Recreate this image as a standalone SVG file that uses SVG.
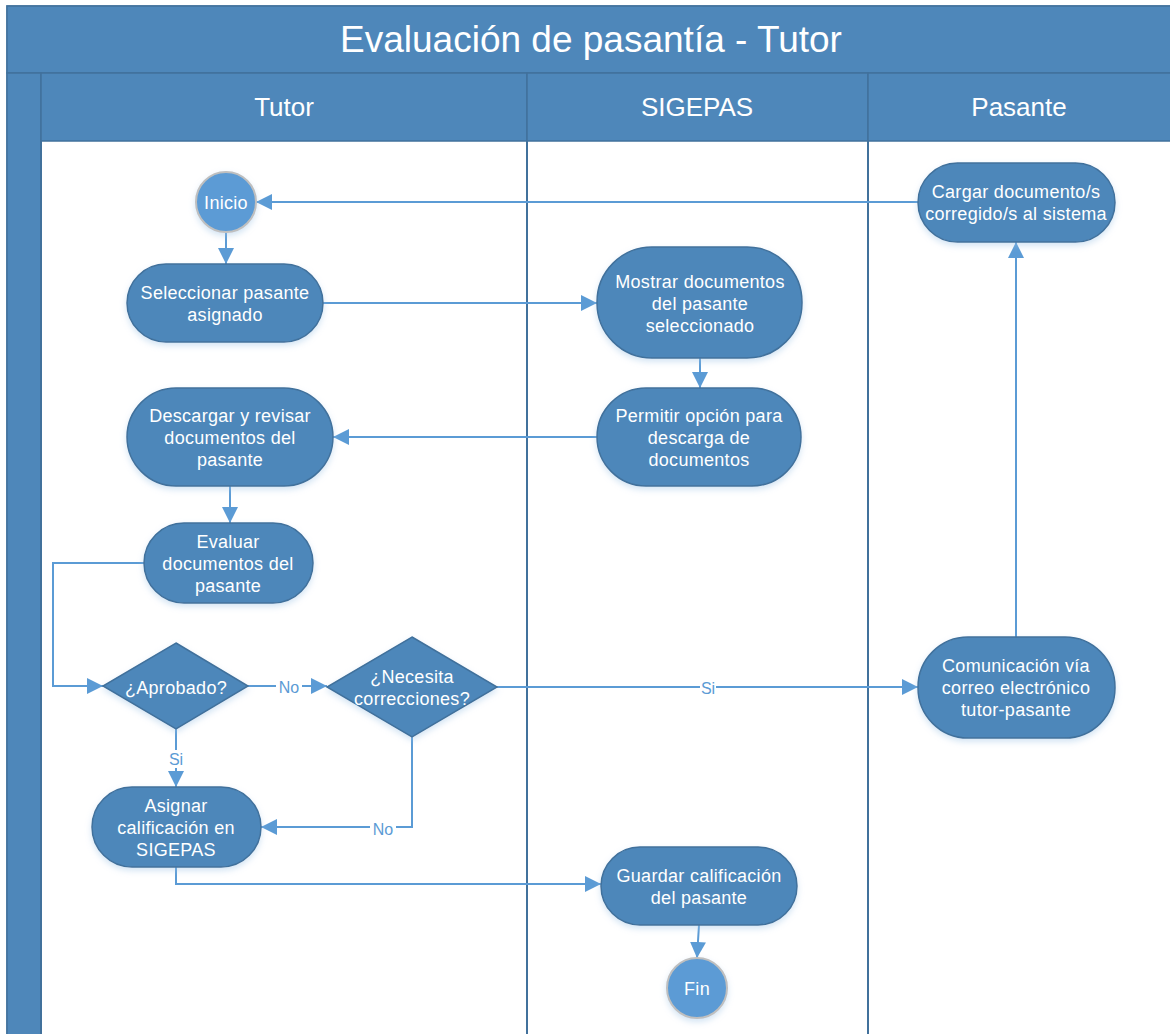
<svg xmlns="http://www.w3.org/2000/svg" width="1170" height="1034" viewBox="0 0 1170 1034">
<style>
.hdr{fill:#4E87BA;stroke:#41719C;stroke-width:1.5}
.proc{fill:#4D87BA;stroke:#41719C;stroke-width:1.5;filter:url(#sh)}
.term{fill:#5B9BD5;stroke:#BFBFBF;stroke-width:2;filter:url(#sh)}
.t{font-family:"Liberation Sans",Arial,sans-serif;font-size:18px;fill:#FFFFFF;text-anchor:middle;letter-spacing:0.3px}
.title{font-family:"Liberation Sans",Arial,sans-serif;font-size:37px;fill:#FFFFFF;text-anchor:middle}
.lane{font-family:"Liberation Sans",Arial,sans-serif;font-size:26px;fill:#FFFFFF;text-anchor:middle}
.c{fill:none;stroke:#5B9BD5;stroke-width:2}
.lbl{font-family:"Liberation Sans",Arial,sans-serif;font-size:16px;fill:#5B9BD5;text-anchor:middle}
.div{stroke:#41719C;stroke-width:2}
</style>
<defs>
<marker id="arr" viewBox="0 0 16 16" refX="16" refY="8" markerWidth="16" markerHeight="16" markerUnits="userSpaceOnUse" orient="auto">
<path d="M0,0 L16,8 L0,16 z" fill="#5B9BD5"/>
</marker>
<filter id="sh" x="-20%" y="-20%" width="140%" height="150%">
<feGaussianBlur in="SourceAlpha" stdDeviation="3"/>
<feOffset dx="0" dy="3" result="b"/>
<feFlood flood-color="#9DC3E6" flood-opacity="0.45"/>
<feComposite in2="b" operator="in"/>
<feMerge><feMergeNode/><feMergeNode in="SourceGraphic"/></feMerge>
</filter>
</defs>
<rect x="0" y="0" width="1170" height="1034" fill="#FFFFFF"/>
<g id="pool">
<rect x="7" y="6" width="1175" height="1040" fill="#FFFFFF" stroke="#41719C" stroke-width="1.5"/>
<rect class="hdr" x="7" y="6" width="1175" height="67"/>
<rect class="hdr" x="7" y="73" width="34" height="970"/>
<rect class="hdr" x="41" y="73" width="486" height="68"/>
<rect class="hdr" x="527" y="73" width="341" height="68"/>
<rect class="hdr" x="868" y="73" width="310" height="68"/>
<text class="title" x="591" y="52">Evaluación de pasantía - Tutor</text>
<text class="lane" x="284" y="116">Tutor</text>
<text class="lane" x="697" y="116">SIGEPAS</text>
<text class="lane" x="1019" y="116">Pasante</text>
<line class="div" x1="527" y1="141" x2="527" y2="1034"/>
<line class="div" x1="868" y1="141" x2="868" y2="1034"/>
<line class="div" x1="41" y1="141" x2="41" y2="1034"/>
</g>
<g id="connectors">
<line class="c" x1="918" y1="202" x2="256" y2="202" marker-end="url(#arr)"/>
<line class="c" x1="226" y1="233" x2="226" y2="264" marker-end="url(#arr)"/>
<line class="c" x1="323" y1="303" x2="597" y2="303" marker-end="url(#arr)"/>
<line class="c" x1="700" y1="358" x2="700" y2="388" marker-end="url(#arr)"/>
<line class="c" x1="597" y1="437" x2="333" y2="437" marker-end="url(#arr)"/>
<line class="c" x1="230" y1="486" x2="230" y2="523" marker-end="url(#arr)"/>
<polyline class="c" points="144,563 53,563 53,686 103,686" marker-end="url(#arr)"/>
<line class="c" x1="248" y1="686" x2="327" y2="686" marker-end="url(#arr)"/>
<line class="c" x1="497" y1="687" x2="918" y2="687" marker-end="url(#arr)"/>
<line class="c" x1="1016" y1="637" x2="1016" y2="242" marker-end="url(#arr)"/>
<line class="c" x1="176" y1="729" x2="176" y2="787" marker-end="url(#arr)"/>
<polyline class="c" points="412,737 412,827 261,827" marker-end="url(#arr)"/>
<polyline class="c" points="176,867 176,884 601,884" marker-end="url(#arr)"/>
<line class="c" x1="699" y1="925" x2="697" y2="958" marker-end="url(#arr)"/>
<rect x="276" y="678" width="26" height="18" fill="#FFFFFF"/>
<text class="lbl" x="289" y="693">No</text>
<rect x="700" y="679" width="16" height="18" fill="#FFFFFF"/>
<text class="lbl" x="708" y="694">Si</text>
<rect x="168" y="750" width="16" height="18" fill="#FFFFFF"/>
<text class="lbl" x="176" y="765">Si</text>
<rect x="370" y="820" width="26" height="18" fill="#FFFFFF"/>
<text class="lbl" x="383" y="835">No</text>
</g>
<g id="inicio">
<circle class="term" cx="226" cy="202" r="30"/>
<text class="t" x="226" y="208.5">Inicio</text>
</g>
<g id="seleccionar">
<rect class="proc" x="127" y="264" width="196" height="78" rx="39"/>
<text class="t" x="225" y="298.5">Seleccionar pasante</text>
<text class="t" x="225" y="320.5">asignado</text>
</g>
<g id="mostrar">
<rect class="proc" x="597" y="247" width="205" height="111" rx="55"/>
<text class="t" x="700" y="287.5">Mostrar documentos</text>
<text class="t" x="700" y="309.5">del pasante</text>
<text class="t" x="700" y="331.5">seleccionado</text>
</g>
<g id="permitir">
<rect class="proc" x="597" y="388" width="204" height="98" rx="49"/>
<text class="t" x="699" y="421.5">Permitir opción para</text>
<text class="t" x="699" y="443.5">descarga de</text>
<text class="t" x="699" y="465.5">documentos</text>
</g>
<g id="descargar">
<rect class="proc" x="127" y="388" width="206" height="98" rx="49"/>
<text class="t" x="230" y="421.5">Descargar y revisar</text>
<text class="t" x="230" y="443.5">documentos del</text>
<text class="t" x="230" y="465.5">pasante</text>
</g>
<g id="evaluar">
<rect class="proc" x="144" y="523" width="169" height="80" rx="40"/>
<text class="t" x="228" y="547.5">Evaluar</text>
<text class="t" x="228" y="569.5">documentos del</text>
<text class="t" x="228" y="591.5">pasante</text>
</g>
<g id="aprobado">
<polygon class="proc" points="176,643 248,686 176,729 103,686"/>
<text class="t" x="176" y="694">¿Aprobado?</text>
</g>
<g id="necesita">
<polygon class="proc" points="412,637 497,687 412,737 327,687"/>
<text class="t" x="412" y="683">¿Necesita</text>
<text class="t" x="412" y="705">correcciones?</text>
</g>
<g id="asignar">
<rect class="proc" x="92" y="787" width="169" height="80" rx="40"/>
<text class="t" x="176" y="811.5">Asignar</text>
<text class="t" x="176" y="833.5">calificación en</text>
<text class="t" x="176" y="855.5">SIGEPAS</text>
</g>
<g id="guardar">
<rect class="proc" x="601" y="847" width="196" height="78" rx="39"/>
<text class="t" x="699" y="881.5">Guardar calificación</text>
<text class="t" x="699" y="903.5">del pasante</text>
</g>
<g id="fin">
<circle class="term" cx="697" cy="988" r="30"/>
<text class="t" x="697" y="994.5">Fin</text>
</g>
<g id="cargar">
<rect class="proc" x="918" y="163" width="197" height="79" rx="39.5"/>
<text class="t" x="1016" y="197.5">Cargar documento/s</text>
<text class="t" x="1016" y="219.5">corregido/s al sistema</text>
</g>
<g id="comunicacion">
<rect class="proc" x="918" y="637" width="197" height="101" rx="50"/>
<text class="t" x="1016" y="671.5">Comunicación vía</text>
<text class="t" x="1016" y="693.5">correo electrónico</text>
<text class="t" x="1016" y="715.5">tutor-pasante</text>
</g>
</svg>
